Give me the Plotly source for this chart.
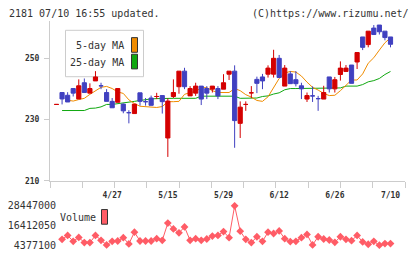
import plotly.graph_objects as go

W, H = 420, 259

# ---------------- data ----------------
label_idx = [10, 20, 30, 40, 50, 60]
labels = ["4/27", "5/15", "5/29", "6/12", "6/26", "7/10"]

opens = [235.0, 238.9, 238.0, 240.2, 236.8, 242.1, 238.7, 242.7, 241.1, 238.9,
         236.0, 235.7, 235.1, 232.3, 232.0, 238.8, 235.9, 237.1, 237.6, 237.9,
         224.0, 237.6, 240.8, 245.9, 237.8, 238.7, 241.0, 240.2, 240.0, 240.2,
         240.0, 244.9, 245.9, 228.8, 235.0, 238.8, 243.2, 244.0, 244.9, 244.9,
         250.1, 241.0, 245.0, 243.1, 241.1, 236.75, 237.8, 236.9, 236.75, 244.0,
         240.1, 244.8, 245.8, 247.9, 248.9, 257.1, 254.6, 260.0, 261.0, 259.0,
         257.1]
highs = [235.0, 238.9, 239.0, 240.2, 243.2, 243.5, 241.9, 245.9, 242.1, 240.0,
         237.1, 240.2, 235.3, 233.1, 235.1, 238.8, 237.1, 237.9, 238.8, 237.9,
         237.0, 243.2, 245.9, 247.0, 241.0, 242.1, 241.0, 241.0, 241.0, 241.0,
         244.9, 245.9, 247.8, 236.0, 236.0, 241.0, 244.1, 245.0, 247.8, 252.9,
         251.2, 247.9, 245.9, 245.9, 242.1, 238.9, 240.9, 237.8, 241.1, 244.0,
         244.0, 249.1, 247.9, 247.9, 252.0, 257.1, 259.0, 261.0, 261.0, 259.0,
         257.1]
lows = [235.0, 235.0, 235.8, 237.6, 236.8, 238.9, 238.7, 242.7, 240.0, 236.0,
        233.9, 235.7, 232.1, 228.8, 232.0, 234.6, 234.6, 234.7, 236.75, 232.0,
        217.8, 237.1, 238.5, 240.0, 237.8, 237.8, 234.8, 236.75, 238.9, 236.75,
        240.0, 243.0, 220.8, 224.0, 232.9, 237.1, 238.7, 240.0, 243.8, 243.8,
        243.8, 241.0, 241.8, 240.9, 236.75, 235.8, 235.8, 232.9, 236.75, 238.9,
        238.9, 242.8, 245.8, 241.9, 246.6, 252.8, 253.7, 257.9, 257.9, 256.0,
        253.7]
closes = [235.0, 236.8, 235.8, 238.7, 241.1, 238.9, 240.2, 244.0, 241.1, 236.0,
          233.9, 240.2, 232.9, 232.3, 235.1, 236.0, 235.9, 234.7, 237.6, 235.9,
          236.1, 238.9, 245.9, 240.8, 240.2, 241.0, 236.75, 238.7, 241.0, 237.8,
          242.1, 245.9, 229.7, 234.1, 235.0, 238.8, 241.9, 242.7, 246.9, 250.1,
          243.8, 246.9, 241.8, 241.8, 240.1, 237.9, 237.8, 236.9, 238.9, 240.1,
          243.1, 246.9, 246.9, 241.9, 252.0, 253.7, 259.0, 257.9, 258.8, 256.9,
          254.7]

ma5 = [None, None, 236.4, 236.1, 236.6, 237.0, 238.3, 239.5, 240.6, 240.9,
       240.2, 239.1, 238.6, 236.5, 235.3, 234.4, 234.3, 234.0, 234.0, 234.3,
       235.9, 235.9, 236.0, 238.3, 238.9, 239.2, 240.5, 240.5, 239.5, 238.9,
       238.9, 238.9, 240.2, 239.5, 238.2, 237.4, 236.3, 236.0, 237.5, 240.5,
       243.5, 245.3, 245.8, 245.6, 244.3, 242.3, 240.6, 239.7, 238.6, 237.9,
       238.0, 239.5, 241.3, 243.0, 243.0, 245.0, 248.5, 250.3, 252.8, 255.2,
       256.8]
ma25 = [None, 233.0, 233.0, 233.0, 233.0, 233.0, 233.7, 233.8, 234.2, 235.0,
        235.0, 235.2, 235.5, 235.8, 236.0, 236.3, 236.6, 236.8, 236.9, 237.0,
        237.0, 237.0, 237.0, 237.0, 237.0, 237.0, 237.7, 237.7, 237.7, 237.7,
        237.7, 237.7, 237.7, 237.0, 237.0, 237.0, 237.1, 237.6, 237.8, 238.4,
        238.8, 239.8, 240.2, 240.2, 240.2, 240.2, 240.2, 240.2, 240.2, 240.2,
        240.2, 240.4, 241.0, 241.0, 241.0, 241.5, 242.4, 242.8, 243.5, 244.8,
        245.8]
volume = [None, 7960000, 10350000, 6770000, 9160000, 5970000, 5970000, 10350000, 7360000, 4580000,
          6770000, 6960000, 8960000, 5170000, 12340000, 6960000, 6960000, 6960000, 8360000, 7360000,
          17920000, 14330000, 11940000, 15530000, 7360000, 8360000, 7360000, 8160000, 9950000, 10350000,
          12740000, 8960000, 28447000, 12940000, 7960000, 5970000, 9550000, 6770000, 12340000, 11540000,
          13140000, 8360000, 6570000, 6770000, 8960000, 10950000, 4580000, 9550000, 8160000, 7560000,
          6170000, 9550000, 7960000, 7160000, 10350000, 6370000, 4970000, 6770000, 4377100, 5370000,
          5370000]
price_ticks = [210, 230, 250]
vol_ticks = [4377100, 16412050, 28447000]

idx = list(range(len(closes)))

# ---------------- styling / geometry ----------------
FONT = "DejaVu Sans Mono"
TXT = "#333333"
AX = "#cccccc"
RED = "#d40000"
BLUE = "#4040c0"
ORANGE = "#f08c00"
GREEN = "#10a810"
VOLC = "#ff5c66"


def px(x):
    return x / W


def py(y):
    return 1 - y / H


step = (390.5 - 56.5) / 60.0
x_lo = (50 - 56.5) / step
x_hi = (405 - 56.5) / step
xr = [x_lo, x_hi]
grid_ticks = [x_lo + k * (x_hi - x_lo) / 11 for k in range(12)]

y_lo = 210
y_hi = 210 + (184 - 20) / 3.125

v_per_px = (28447000 - 4377100) / (250 - 209.7)
v_lo = 4377100 - (255 - 250) * v_per_px
v_hi = 4377100 + (250 - 205) * v_per_px

fig = go.Figure()

fig.add_trace(go.Scatter(x=idx, y=ma25, mode="lines", xaxis="x", yaxis="y",
                         line=dict(color=GREEN, width=1), hoverinfo="skip"))
fig.add_trace(go.Scatter(x=idx, y=ma5, mode="lines", xaxis="x", yaxis="y",
                         line=dict(color=ORANGE, width=1), hoverinfo="skip"))
fig.add_trace(go.Candlestick(
    x=idx, open=opens, high=highs, low=lows, close=closes,
    xaxis="x3", yaxis="y", whiskerwidth=0,
    increasing=dict(line=dict(color=RED, width=1), fillcolor=RED),
    decreasing=dict(line=dict(color=BLUE, width=1), fillcolor=BLUE),
))
fig.add_trace(go.Scatter(x=idx, y=volume, mode="lines+markers", xaxis="x2", yaxis="y2",
                         line=dict(color=VOLC, width=1),
                         marker=dict(symbol="diamond", size=6, color=VOLC),
                         connectgaps=False))

shapes = [
    # legend box
    dict(type="rect", xref="paper", yref="paper", layer="below",
         x0=px(65.5), x1=px(143.5), y0=py(30), y1=py(77.5),
         line=dict(color=AX, width=1), fillcolor="white"),
    dict(type="rect", xref="paper", yref="paper",
         x0=px(131.5), x1=px(137.5), y0=py(37.5), y1=py(52.5),
         line=dict(color="#333", width=1), fillcolor=ORANGE),
    dict(type="rect", xref="paper", yref="paper",
         x0=px(131.5), x1=px(137.5), y0=py(54.5), y1=py(69.5),
         line=dict(color="#333", width=1), fillcolor=GREEN),
    dict(type="rect", xref="paper", yref="paper",
         x0=px(101.5), x1=px(107.5), y0=py(213.5), y1=py(228.5),
         line=dict(color="#333", width=1), fillcolor=VOLC),
]

annotations = [
    dict(text="2181 07/10 16:55 updated.", x=px(7), y=py(13.3), xref="paper", yref="paper",
         xanchor="left", yanchor="middle", showarrow=False, font=dict(family=FONT, size=10, color=TXT)),
    dict(text="(C)https://www.rizumu.net/", x=px(411), y=py(13.3), xref="paper", yref="paper",
         xanchor="right", yanchor="middle", showarrow=False, font=dict(family=FONT, size=10, color=TXT)),
    dict(text="5-day MA", x=px(125.5), y=py(46), xref="paper", yref="paper",
         xanchor="right", yanchor="middle", showarrow=False, font=dict(family=FONT, size=10, color=TXT)),
    dict(text="25-day MA", x=px(125.5), y=py(63.3), xref="paper", yref="paper",
         xanchor="right", yanchor="middle", showarrow=False, font=dict(family=FONT, size=10, color=TXT)),
    dict(text="Volume", x=px(57.5), y=py(221.7), xref="paper", yref="paper",
         xanchor="left", yanchor="middle", showarrow=False, font=dict(family=FONT, size=10, color=TXT)),
]

fig.update_layout(
    width=W, height=H, autosize=False,
    margin=dict(l=0, r=0, t=0, b=0, pad=0),
    paper_bgcolor="white", plot_bgcolor="white",
    showlegend=False, boxgap=0.25, boxgroupgap=0,
    shapes=shapes, annotations=annotations,
    xaxis=dict(domain=[px(50), px(405)], range=xr, anchor="y",
               showline=False, showgrid=False, zeroline=False, ticks="",
               tickmode="array", tickvals=label_idx, ticktext=labels,
               tickfont=dict(family=FONT, size=8, color=TXT, weight="bold"), ticklabelstandoff=8),
    xaxis3=dict(overlaying="x", anchor="y", range=xr, side="bottom",
                showline=True, linecolor=AX, linewidth=1, showgrid=False, zeroline=False,
                ticks="outside", ticklen=6, tickcolor=AX, tickwidth=1,
                tickmode="array", tickvals=grid_ticks, showticklabels=False,
                rangeslider=dict(visible=False)),
    yaxis=dict(domain=[py(184), py(20)], range=[y_lo, y_hi], anchor="x",
               showline=True, linecolor=AX, linewidth=1, showgrid=False, zeroline=False,
               ticks="outside", ticklen=5, tickcolor=AX, tickwidth=1,
               tickmode="array", tickvals=price_ticks,
               tickfont=dict(family=FONT, size=8, color=TXT, weight="bold"), ticklabelstandoff=3),
    xaxis2=dict(domain=[px(50), px(405)], range=xr, anchor="y2", visible=False),
    yaxis2=dict(domain=[py(255), py(205)], range=[v_lo, v_hi], anchor="free", position=px(56),
                showline=False, showgrid=False, zeroline=False, ticks="",
                tickmode="array", tickvals=vol_ticks, ticktext=[str(v) for v in vol_ticks],
                tickfont=dict(family=FONT, size=10, color=TXT)),
)

fig.write_html("out.html")
